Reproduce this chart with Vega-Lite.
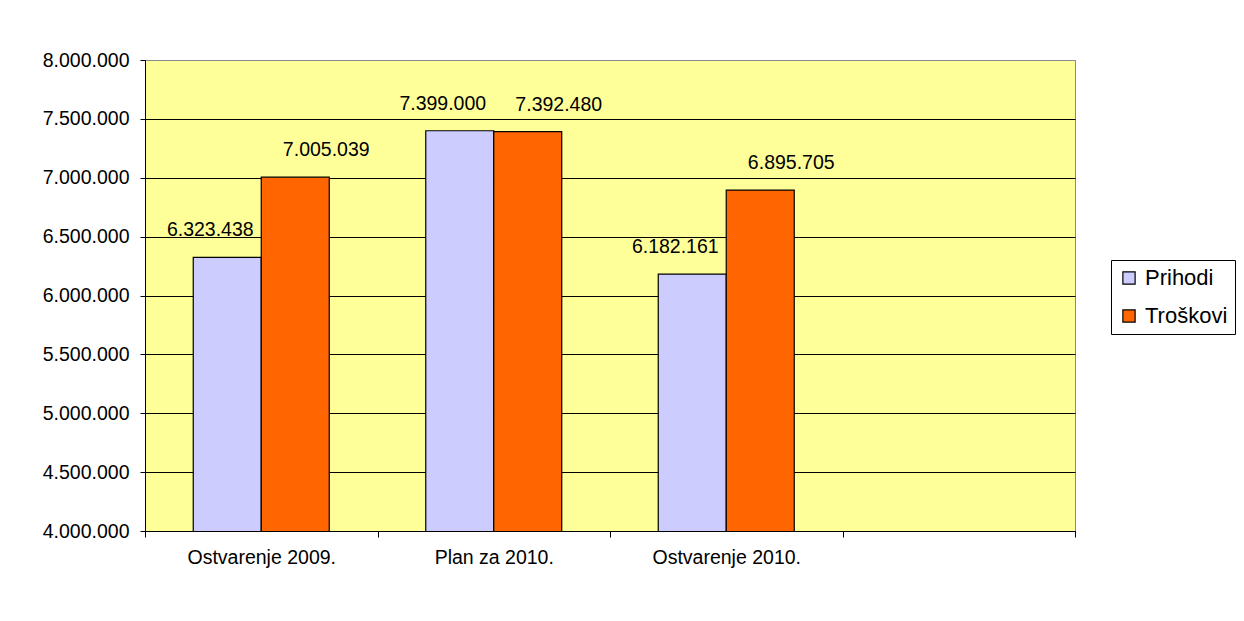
{
  "$schema": "https://vega.github.io/schema/vega-lite/v6.json",
  "autosize": "none",
  "width": 930,
  "height": 471,
  "padding": {"left": 145, "top": 60, "right": 169, "bottom": 90},
  "background": "white",
  "data": {
    "values": [
      {"kategorija": "Ostvarenje 2009.", "serija": "Prihodi", "iznos": 6323438},
      {"kategorija": "Ostvarenje 2009.", "serija": "Troškovi", "iznos": 7005039},
      {"kategorija": "Plan za 2010.", "serija": "Prihodi", "iznos": 7399000},
      {"kategorija": "Plan za 2010.", "serija": "Troškovi", "iznos": 7392480},
      {"kategorija": "Ostvarenje 2010.", "serija": "Prihodi", "iznos": 6182161},
      {"kategorija": "Ostvarenje 2010.", "serija": "Troškovi", "iznos": 6895705}
    ]
  },
  "encoding": {
    "x": {
      "field": "kategorija",
      "type": "nominal",
      "sort": null,
      "scale": {"domain": ["Ostvarenje 2009.", "Plan za 2010.", "Ostvarenje 2010.", " "], "paddingInner": 0, "paddingOuter": 0},
      "axis": {
        "title": null,
        "labelAngle": 0,
        "tickBand": "extent",
        "domainColor": "black",
        "tickColor": "black",
        "tickSize": 6,
        "labelPadding": 11,
        "labelFont": "Liberation Sans",
        "labelFontSize": 19.5,
        "labelColor": "black",
        "grid": false
      }
    },
    "xOffset": {"field": "serija", "type": "nominal", "scale": {"domain": ["Prihodi", "Troškovi"], "paddingInner": 0, "paddingOuter": 0.7096}},
    "y": {
      "field": "iznos",
      "type": "quantitative",
      "scale": {"domain": [4000000, 8000000], "zero": false, "nice": false},
      "axis": {
        "title": null,
        "values": [4000000, 4500000, 5000000, 5500000, 6000000, 6500000, 7000000, 7500000, 8000000],
        "format": ",d",
        "grid": true,
        "gridColor": {"condition": {"test": "datum.value == 8000000", "value": "#888888"}, "value": "black"},
        "gridOpacity": 1,
        "domainColor": "black",
        "tickColor": "black",
        "tickSize": 5,
        "labelPadding": 11,
        "labelFont": "Liberation Sans",
        "labelFontSize": 19.5,
        "labelColor": "black"
      }
    }
  },
  "layer": [
    {
      "mark": {"type": "bar", "stroke": "black", "strokeWidth": 1.2, "clip": true},
      "encoding": {
        "color": {
          "field": "serija",
          "type": "nominal",
          "scale": {"domain": ["Prihodi", "Troškovi"], "range": ["#CCCCFF", "#FF6600"]},
          "legend": {
            "title": null,
            "orient": "none",
            "legendX": 966,
            "legendY": 200,
            "strokeColor": "black",
            "fillColor": "white",
            "padding": 7,
            "symbolType": "square",
            "symbolSize": 150,
            "symbolStrokeColor": "black",
            "symbolStrokeWidth": 1.2,
            "symbolOpacity": 1,
            "labelFont": "Liberation Sans",
            "labelFontSize": 22,
            "labelColor": "black",
            "labelOffset": 5,
            "rowPadding": 16
          }
        }
      }
    },
    {
      "transform": [{"filter": "datum.serija == 'Prihodi'"}],
      "mark": {"type": "text", "baseline": "alphabetic", "dx": -17, "dy": -21, "font": "Liberation Sans", "fontSize": 19.5, "color": "black"},
      "encoding": {
        "text": {"field": "iznos", "type": "quantitative", "format": ",d"}
      }
    },
    {
      "transform": [{"filter": "datum.serija == 'Troškovi'"}],
      "mark": {"type": "text", "baseline": "alphabetic", "dx": 31, "dy": -21, "font": "Liberation Sans", "fontSize": 19.5, "color": "black"},
      "encoding": {
        "text": {"field": "iznos", "type": "quantitative", "format": ",d"}
      }
    }
  ],
  "config": {
    "locale": {"number": {"decimal": ",", "thousands": ".", "grouping": [3], "currency": ["", ""]}},
    "view": {"fill": "#FFFF99", "stroke": "#888888", "strokeWidth": 1}
  }
}
